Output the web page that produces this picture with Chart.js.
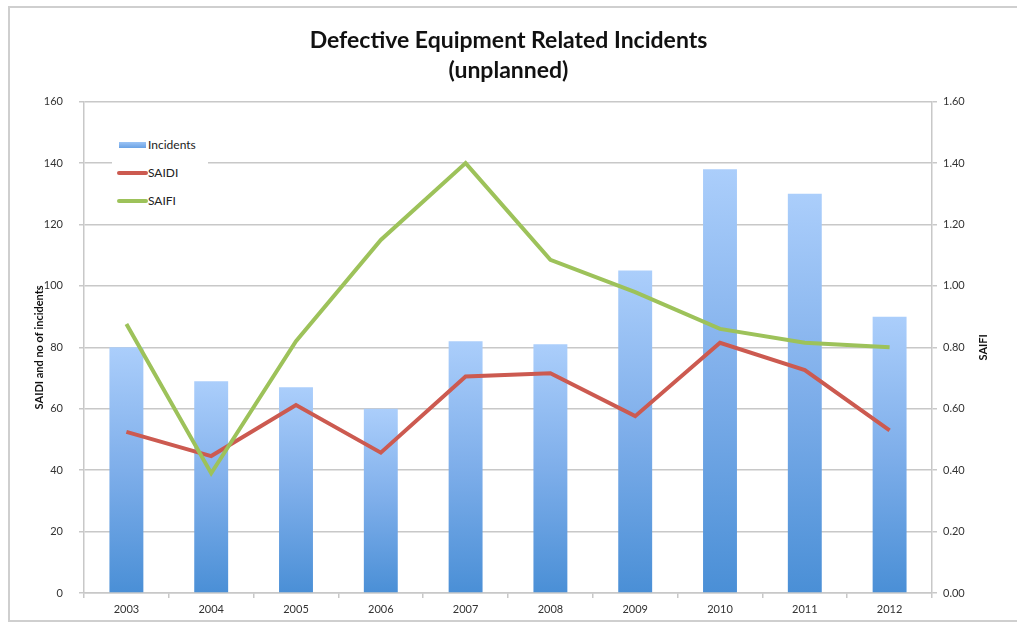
<!DOCTYPE html>
<html>
<head>
<meta charset="utf-8">
<script src="https://cdn.jsdelivr.net/npm/chart.js@4"></script>
<style>
  html, body { margin: 0; padding: 0; background: #fff; overflow: hidden; }
  #wrap { position: relative; width: 1017px; height: 628px; }
  #frame { position: absolute; left: 8px; top: 6px; width: 1030px; height: 616px; border: 2px solid #cfcfcf; box-sizing: border-box; pointer-events: none; }
  #legend { position: absolute; left: 112px; top: 132px; width: 96px; height: 82px; background: #fff; font-family: Lato, "Open Sans", sans-serif; font-size: 12px; color: #222; }
  .item { position: absolute; left: 0; height: 16px; line-height: 16px; white-space: nowrap; }
  .sw { position: absolute; left: 5px; width: 31px; }
  .lbl { position: absolute; left: 36px; top: 0; }
</style>
</head>
<body>
<div id="wrap">
  <canvas id="c" width="1017" height="628"></canvas>
  <div id="legend"></div>
  <div id="frame"></div>
</div>
<script>
const categories = ["2003","2004","2005","2006","2007","2008","2009","2010","2011","2012"];
const incidents = [80, 69, 67, 60, 82, 81, 105, 138, 130, 90];
const saidi = [52.5, 44.6, 61.2, 45.7, 70.5, 71.6, 57.6, 81.5, 72.6, 53];
const saifi = [0.876, 0.39, 0.82, 1.15, 1.40, 1.085, 0.98, 0.86, 0.815, 0.80];
const titleLines = ["Defective Equipment Related Incidents", "(unplanned)"];
const leftTitle = "SAIDI and no of incidents";
const rightTitle = "SAIFI";
const seriesNames = ["Incidents", "SAIDI", "SAIFI"];

const RED = "#cc5a50";
const GREEN = "#9dc25a";
const GRID = "#c8c8c8";
const TICKC = "#333333";
const FONT = "Lato, 'Open Sans', sans-serif";

function barFill(ctx) {
  const chart = ctx.chart;
  const y = chart.scales && chart.scales.y;
  if (!chart.chartArea || !y || ctx.raw == null) return "#6fa6e6";
  const top = y.getPixelForValue(ctx.raw);
  const bot = y.getPixelForValue(0);
  if (!isFinite(top) || !isFinite(bot) || top === bot) return "#6fa6e6";
  const g = chart.ctx.createLinearGradient(0, top, 0, bot);
  g.addColorStop(0, "#abcefb");
  g.addColorStop(0.5, "#7eaeea");
  g.addColorStop(1, "#4a8fd6");
  return g;
}

// Right-axis title drawn reading bottom-to-top, like the reference
const rightTitlePlugin = {
  id: "rightTitle",
  afterDraw(chart) {
    const s = chart.scales.y1;
    if (!s) return;
    const c = chart.ctx;
    c.save();
    c.translate(983, (s.top + s.bottom) / 2);
    c.rotate(-Math.PI / 2);
    c.fillStyle = "#111";
    c.font = "bold 11px " + FONT;
    c.textAlign = "center";
    c.textBaseline = "middle";
    c.fillText(rightTitle, 0, 0);
    c.restore();
  }
};

new Chart(document.getElementById("c"), {
  data: {
    labels: categories,
    datasets: [
      { type: "bar", label: seriesNames[0], data: incidents, yAxisID: "y", backgroundColor: barFill, borderWidth: 0, categoryPercentage: 1, barPercentage: 0.4, order: 3 },
      { type: "line", label: seriesNames[1], data: saidi, yAxisID: "y", borderColor: RED, backgroundColor: RED, borderWidth: 4, pointRadius: 0, tension: 0, fill: false, order: 2 },
      { type: "line", label: seriesNames[2], data: saifi, yAxisID: "y1", borderColor: GREEN, backgroundColor: GREEN, borderWidth: 4, pointRadius: 0, tension: 0, fill: false, order: 1 }
    ]
  },
  options: {
    responsive: false,
    animation: false,
    layout: { padding: { left: 0, right: 0, top: 0, bottom: 0 } },
    plugins: {
      legend: { display: false },
      tooltip: { enabled: false },
      title: {
        display: true,
        text: titleLines,
        color: "#111",
        font: { family: FONT, size: 23, weight: "bold", lineHeight: 1.32 },
        padding: { top: 25, bottom: 16 }
      }
    },
    scales: {
      x: {
        type: "category",
        offset: true,
        grid: { display: true, drawOnChartArea: false, drawTicks: true, tickLength: 5, color: GRID, lineWidth: 1.5, offset: true },
        border: { display: true, color: GRID, width: 1.5 },
        ticks: { color: TICKC, font: { family: FONT, size: 11 }, padding: 5, maxRotation: 0 },
        afterFit: s => { s.height = 35; }
      },
      y: {
        type: "linear",
        position: "left",
        min: 0, max: 160,
        ticks: { stepSize: 20, color: TICKC, font: { family: FONT, size: 11 }, padding: 16 },
        grid: { color: GRID, lineWidth: 1.5, tickLength: 5 },
        border: { display: true, color: GRID, width: 1.5 },
        title: { display: true, text: leftTitle, color: "#111", font: { family: FONT, size: 11, weight: "bold" }, padding: { top: 33, bottom: 0 } },
        afterFit: s => { s.width = 84; }
      },
      y1: {
        type: "linear",
        position: "right",
        min: 0, max: 1.6,
        ticks: { stepSize: 0.2, color: TICKC, font: { family: FONT, size: 11 }, padding: 6, callback: v => Number(v).toFixed(2) },
        grid: { drawOnChartArea: false, color: GRID, lineWidth: 1.5, tickLength: 5 },
        border: { display: true, color: GRID, width: 1.5 },
        title: { display: false },
        afterFit: s => { s.width = 85; }
      }
    }
  },
  plugins: [rightTitlePlugin]
});

// HTML legend built from series names
const legendEl = document.getElementById("legend");
const rows = [
  { name: seriesNames[0], top: 5, sw: "top:5px;height:6px;left:7px;width:27px;background:linear-gradient(#9cc4f5,#6aa2e4);" },
  { name: seriesNames[1], top: 33, sw: "top:6px;height:4px;background:" + RED + ";border-radius:2px;" },
  { name: seriesNames[2], top: 61, sw: "top:6px;height:4px;background:" + GREEN + ";border-radius:2px;" }
];
rows.forEach(r => {
  const d = document.createElement("div");
  d.className = "item";
  d.style.top = r.top + "px";
  d.innerHTML = '<span class="sw" style="' + r.sw + '"></span><span class="lbl">' + r.name + '</span>';
  legendEl.appendChild(d);
});
</script>
</body>
</html>
